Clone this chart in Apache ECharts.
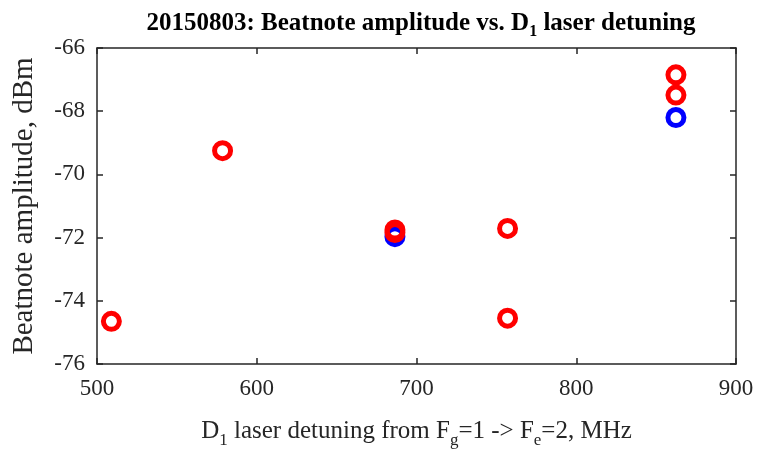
<!DOCTYPE html>
<html><head><meta charset="utf-8">
<script src="https://cdn.jsdelivr.net/npm/echarts@6/dist/echarts.min.js"></script>
<style>html,body{margin:0;padding:0;background:#fff}#c{width:757px;height:452px}</style>
</head><body><div id="c"></div>
<script>
const blueX = [686.5, 862.4];
const blueY = [-71.97, -68.2];
const redX = [509, 578.6, 686.5, 686.5, 757, 757, 862.4, 862.4];
const redY = [-74.65, -69.25, -71.76, -71.84, -71.71, -74.55, -66.85, -67.49];
const xTicks = [500, 600, 700, 800, 900];
const yTicks = [-76, -74, -72, -70, -68, -66];

const blueData = blueX.map((x, i) => [x, blueY[i]]);
const redData = redX.map((x, i) => [x, redY[i]]);
const font = 'Liberation Serif';
const axisCol = '#262626';
const chart = echarts.init(document.getElementById('c'));
const commonX = {
  type: 'value', min: 500, max: 900, interval: 100,
  axisLine: {show: true, lineStyle: {color: axisCol, width: 1.5}},
  axisTick: {show: true, inside: true, length: 6, lineStyle: {color: axisCol, width: 1.5}},
  splitLine: {show: false}
};
const commonY = {
  type: 'value', min: -76, max: -66, interval: 2,
  axisLine: {show: true, lineStyle: {color: axisCol, width: 1.5}},
  axisTick: {show: true, inside: true, length: 6, lineStyle: {color: axisCol, width: 1.5}},
  splitLine: {show: false}
};
chart.setOption({
  animation: false,
  backgroundColor: '#fff',
  title: {
    text: '{a|20150803: Beatnote amplitude vs. D}{s|1}{a| laser detuning}',
    left: 416, textAlign: 'center', top: 3,
    textStyle: {
      rich: {
        a: {fontFamily: font, fontSize: 25, fontWeight: 'bold', color: '#000'},
        s: {fontFamily: font, fontSize: 16, fontWeight: 'bold', color: '#000', padding: [16, 0, 0, 0]}
      }
    }
  },
  grid: {left: 97, right: 21, top: 48, bottom: 88, containLabel: false, outerBoundsMode: 'none'},
  xAxis: [
    Object.assign({}, commonX, {
      position: 'bottom',
      axisLabel: {show: true, fontFamily: font, fontSize: 23, color: '#262626', margin: 13,
        formatter: v => xTicks.includes(v) ? String(v) : ''},
      name: '{a|D}{s|1}{a| laser detuning from F}{s|g}{a|=1 -> F}{s|e}{a|=2, MHz}',
      nameLocation: 'middle', nameGap: 50,
      nameTextStyle: {
        rich: {
          a: {fontFamily: font, fontSize: 25, color: '#262626'},
          s: {fontFamily: font, fontSize: 17, color: '#262626', padding: [18, 0, 0, 0]}
        }
      }
    }),
    Object.assign({}, commonX, {position: 'top', axisLabel: {show: false}})
  ],
  yAxis: [
    Object.assign({}, commonY, {
      position: 'left',
      axisLabel: {show: true, fontFamily: font, fontSize: 23, color: '#262626', margin: 12,
        formatter: v => yTicks.includes(v) ? String(v) : ''},
      name: 'Beatnote amplitude, dBm', nameLocation: 'middle', nameGap: 58,
      nameTextStyle: {fontFamily: font, fontSize: 29, color: '#262626'}
    }),
    Object.assign({}, commonY, {position: 'right', axisLabel: {show: false}})
  ],
  series: [
    {type: 'scatter', data: blueData, symbol: 'circle', symbolSize: 16,
      itemStyle: {color: 'rgba(0,0,0,0)', borderColor: '#0000ff', borderWidth: 5, opacity: 1}},
    {type: 'scatter', data: redData, symbol: 'circle', symbolSize: 16,
      itemStyle: {color: 'rgba(0,0,0,0)', borderColor: '#ff0000', borderWidth: 5, opacity: 1}}
  ]
});
</script></body></html>
